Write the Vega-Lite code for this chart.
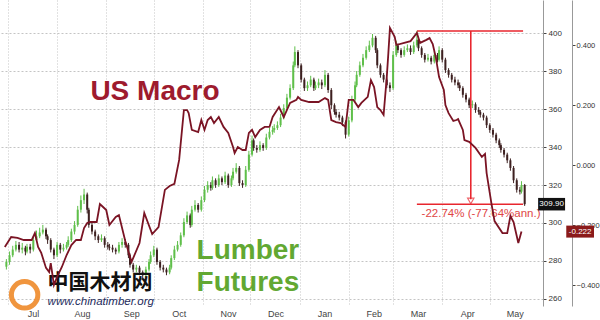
{
"$schema": "https://vega.github.io/schema/vega-lite/v6.json",
"width": 543, "height": 306,
"autosize": {"type": "none"},
"padding": {"left": 0, "top": 0, "right": 57, "bottom": 14},
"background": "white",
"config": {"view": {"stroke": null}, "font": "Liberation Sans", "axis": {"labelFont": "Liberation Sans"}},
"datasets": {
"lumber": [
{"d":"2012-06-30","o":277,"c":279.5,"h":281,"l":275.5},
{"d":"2012-07-02","o":279.5,"c":283,"h":285,"l":278},
{"d":"2012-07-04","o":283,"c":286,"h":288,"l":282},
{"d":"2012-07-06","o":286,"c":288.5,"h":290.5,"l":285},
{"d":"2012-07-08","o":288.5,"c":286,"h":290,"l":284.5},
{"d":"2012-07-10","o":286,"c":287,"h":289.5,"l":284},
{"d":"2012-07-12","o":287,"c":285,"h":288,"l":283},
{"d":"2012-07-13","o":285,"c":287.5,"h":289,"l":284},
{"d":"2012-07-15","o":287.5,"c":286,"h":289,"l":284},
{"d":"2012-07-17","o":286,"c":291,"h":293,"l":285},
{"d":"2012-07-19","o":291,"c":293,"h":296,"l":290},
{"d":"2012-07-21","o":293,"c":295,"h":297.5,"l":292},
{"d":"2012-07-23","o":295,"c":296.5,"h":299,"l":294},
{"d":"2012-07-25","o":296.5,"c":293,"h":297.5,"l":291.5},
{"d":"2012-07-26","o":293,"c":291,"h":294,"l":289},
{"d":"2012-07-28","o":291,"c":286,"h":292,"l":284.5},
{"d":"2012-07-30","o":286,"c":283,"h":287,"l":281},
{"d":"2012-08-01","o":283,"c":288.5,"h":290,"l":282},
{"d":"2012-08-03","o":288.5,"c":286,"h":289.5,"l":284},
{"d":"2012-08-05","o":286,"c":287,"h":289,"l":285},
{"d":"2012-08-07","o":287,"c":288.5,"h":290,"l":286},
{"d":"2012-08-08","o":288.5,"c":291,"h":293,"l":287.5},
{"d":"2012-08-10","o":291,"c":295.5,"h":297,"l":290},
{"d":"2012-08-12","o":295.5,"c":299,"h":301,"l":294},
{"d":"2012-08-14","o":299,"c":307,"h":309,"l":298},
{"d":"2012-08-16","o":307,"c":312,"h":314.5,"l":305.5},
{"d":"2012-08-18","o":312,"c":315,"h":318,"l":310},
{"d":"2012-08-20","o":315,"c":307,"h":316,"l":305},
{"d":"2012-08-21","o":307,"c":299,"h":308,"l":297.5},
{"d":"2012-08-23","o":299,"c":295.5,"h":300.5,"l":294},
{"d":"2012-08-25","o":295.5,"c":293,"h":296.5,"l":291},
{"d":"2012-08-27","o":293,"c":291,"h":294,"l":289.5},
{"d":"2012-08-29","o":291,"c":292,"h":294,"l":290},
{"d":"2012-08-31","o":292,"c":288.5,"h":293,"l":287},
{"d":"2012-09-02","o":288.5,"c":287.5,"h":290,"l":286},
{"d":"2012-09-03","o":287.5,"c":287,"h":289,"l":285.5},
{"d":"2012-09-05","o":287,"c":286,"h":288.5,"l":284.5},
{"d":"2012-09-07","o":286,"c":285,"h":287,"l":283.5},
{"d":"2012-09-09","o":285,"c":288.5,"h":290,"l":284},
{"d":"2012-09-11","o":288.5,"c":290,"h":292,"l":287},
{"d":"2012-09-13","o":290,"c":288.5,"h":291.5,"l":287},
{"d":"2012-09-15","o":288.5,"c":283,"h":289.5,"l":281.5},
{"d":"2012-09-16","o":283,"c":278,"h":284,"l":276.5},
{"d":"2012-09-18","o":278,"c":275.5,"h":279,"l":274},
{"d":"2012-09-20","o":275.5,"c":276.5,"h":278,"l":274},
{"d":"2012-09-22","o":276.5,"c":274,"h":277.5,"l":272.5},
{"d":"2012-09-24","o":274,"c":272.5,"h":275,"l":271},
{"d":"2012-09-26","o":272.5,"c":275.5,"h":277,"l":271.5},
{"d":"2012-09-28","o":275.5,"c":279.5,"h":281,"l":274.5},
{"d":"2012-09-29","o":279.5,"c":283,"h":285,"l":278.5},
{"d":"2012-10-01","o":283,"c":286,"h":288,"l":282},
{"d":"2012-10-03","o":286,"c":279.5,"h":287,"l":278},
{"d":"2012-10-05","o":279.5,"c":276.5,"h":280.5,"l":275},
{"d":"2012-10-07","o":276.5,"c":275.5,"h":278,"l":274},
{"d":"2012-10-09","o":275.5,"c":274,"h":276.5,"l":272.5},
{"d":"2012-10-11","o":274,"c":276.5,"h":278,"l":273},
{"d":"2012-10-12","o":276.5,"c":281.5,"h":283,"l":275.5},
{"d":"2012-10-14","o":281.5,"c":286,"h":288,"l":280.5},
{"d":"2012-10-16","o":286,"c":288.5,"h":290.5,"l":285},
{"d":"2012-10-18","o":288.5,"c":293.5,"h":295,"l":287.5},
{"d":"2012-10-20","o":293.5,"c":300.5,"h":302.5,"l":292.5},
{"d":"2012-10-22","o":300.5,"c":304,"h":306,"l":299.5},
{"d":"2012-10-24","o":304,"c":299,"h":305,"l":297.5},
{"d":"2012-10-25","o":299,"c":307,"h":309,"l":298},
{"d":"2012-10-27","o":307,"c":309.5,"h":312,"l":306},
{"d":"2012-10-29","o":309.5,"c":307,"h":310.5,"l":305.5},
{"d":"2012-10-31","o":307,"c":312,"h":314,"l":306},
{"d":"2012-11-02","o":312,"c":317.5,"h":319.5,"l":311},
{"d":"2012-11-04","o":317.5,"c":320,"h":322,"l":316},
{"d":"2012-11-06","o":320,"c":318.5,"h":321.5,"l":317},
{"d":"2012-11-07","o":318.5,"c":322.5,"h":324.5,"l":317.5},
{"d":"2012-11-09","o":322.5,"c":320,"h":323.5,"l":318.5},
{"d":"2012-11-11","o":320,"c":323.5,"h":325.5,"l":319},
{"d":"2012-11-13","o":323.5,"c":321.5,"h":324.5,"l":320},
{"d":"2012-11-15","o":321.5,"c":325,"h":327,"l":320.5},
{"d":"2012-11-17","o":325,"c":320,"h":326,"l":318.5},
{"d":"2012-11-19","o":320,"c":323.5,"h":325,"l":319},
{"d":"2012-11-20","o":323.5,"c":327,"h":329,"l":322.5},
{"d":"2012-11-22","o":327,"c":329,"h":331.5,"l":326},
{"d":"2012-11-24","o":329,"c":321,"h":330,"l":319.5},
{"d":"2012-11-26","o":321,"c":320,"h":322.5,"l":318.5},
{"d":"2012-11-28","o":320,"c":328,"h":330,"l":319},
{"d":"2012-11-30","o":328,"c":336,"h":338,"l":327},
{"d":"2012-12-02","o":336,"c":343.5,"h":346,"l":335},
{"d":"2012-12-03","o":343.5,"c":339.5,"h":344.5,"l":338},
{"d":"2012-12-05","o":339.5,"c":338.5,"h":341,"l":337},
{"d":"2012-12-07","o":338.5,"c":341,"h":343,"l":337.5},
{"d":"2012-12-09","o":341,"c":339.5,"h":342,"l":338},
{"d":"2012-12-11","o":339.5,"c":345,"h":347,"l":338.5},
{"d":"2012-12-13","o":345,"c":348,"h":350,"l":344},
{"d":"2012-12-15","o":348,"c":349,"h":351,"l":346.5},
{"d":"2012-12-16","o":349,"c":350,"h":352,"l":347.5},
{"d":"2012-12-18","o":350,"c":351.5,"h":353.5,"l":349},
{"d":"2012-12-20","o":351.5,"c":355.5,"h":357.5,"l":350.5},
{"d":"2012-12-22","o":355.5,"c":360.5,"h":362.5,"l":354.5},
{"d":"2012-12-24","o":360.5,"c":366,"h":368,"l":359.5},
{"d":"2012-12-26","o":366,"c":371,"h":373,"l":365},
{"d":"2012-12-28","o":371,"c":383,"h":385,"l":370},
{"d":"2012-12-29","o":383,"c":390,"h":393,"l":382},
{"d":"2012-12-31","o":390,"c":383,"h":391,"l":381.5},
{"d":"2013-01-02","o":383,"c":375.5,"h":384,"l":374},
{"d":"2013-01-04","o":375.5,"c":371,"h":376.5,"l":369.5},
{"d":"2013-01-06","o":371,"c":372.5,"h":374.5,"l":369.5},
{"d":"2013-01-08","o":372.5,"c":375.5,"h":377.5,"l":371.5},
{"d":"2013-01-10","o":375.5,"c":371,"h":376.5,"l":369.5},
{"d":"2013-01-11","o":371,"c":372.5,"h":374.5,"l":370},
{"d":"2013-01-13","o":372.5,"c":374,"h":376,"l":371},
{"d":"2013-01-15","o":374,"c":372.5,"h":375.5,"l":370.5},
{"d":"2013-01-17","o":372.5,"c":378,"h":380.5,"l":371.5},
{"d":"2013-01-19","o":378,"c":370,"h":379,"l":368.5},
{"d":"2013-01-21","o":370,"c":362,"h":371,"l":360},
{"d":"2013-01-23","o":362,"c":358.5,"h":363,"l":357},
{"d":"2013-01-24","o":358.5,"c":357,"h":360,"l":355.5},
{"d":"2013-01-26","o":357,"c":355.5,"h":358.5,"l":354},
{"d":"2013-01-28","o":355.5,"c":353,"h":356.5,"l":351},
{"d":"2013-01-30","o":353,"c":346.5,"h":354,"l":344.5},
{"d":"2013-02-01","o":346.5,"c":354,"h":356,"l":345.5},
{"d":"2013-02-03","o":354,"c":365,"h":367,"l":353},
{"d":"2013-02-05","o":365,"c":372.5,"h":374.5,"l":364},
{"d":"2013-02-06","o":372.5,"c":378,"h":380,"l":371.5},
{"d":"2013-02-08","o":378,"c":383,"h":385,"l":377},
{"d":"2013-02-10","o":383,"c":387,"h":389,"l":382},
{"d":"2013-02-12","o":387,"c":391,"h":393,"l":386},
{"d":"2013-02-14","o":391,"c":393.5,"h":396,"l":390},
{"d":"2013-02-16","o":393.5,"c":397.5,"h":399.5,"l":392.5},
{"d":"2013-02-18","o":397.5,"c":391,"h":398.5,"l":389.5},
{"d":"2013-02-19","o":391,"c":383,"h":392,"l":381.5},
{"d":"2013-02-21","o":383,"c":378,"h":384,"l":376.5},
{"d":"2013-02-23","o":378,"c":375.5,"h":379,"l":374},
{"d":"2013-02-25","o":375.5,"c":372.5,"h":376.5,"l":371},
{"d":"2013-02-27","o":372.5,"c":371,"h":374,"l":369},
{"d":"2013-03-01","o":371,"c":388.5,"h":390.5,"l":370},
{"d":"2013-03-03","o":388.5,"c":393.5,"h":396,"l":387.5},
{"d":"2013-03-04","o":393.5,"c":391,"h":394.5,"l":389.5},
{"d":"2013-03-06","o":391,"c":388.5,"h":392,"l":387},
{"d":"2013-03-08","o":388.5,"c":391,"h":393,"l":387.5},
{"d":"2013-03-10","o":391,"c":392,"h":394,"l":390},
{"d":"2013-03-12","o":392,"c":390,"h":393.5,"l":388.5},
{"d":"2013-03-14","o":390,"c":393.5,"h":395.5,"l":389},
{"d":"2013-03-16","o":393.5,"c":396.5,"h":401.1,"l":392.5},
{"d":"2013-03-17","o":396.5,"c":392,"h":397.5,"l":390.5},
{"d":"2013-03-19","o":392,"c":388.5,"h":393,"l":387},
{"d":"2013-03-21","o":388.5,"c":386,"h":389.5,"l":384.5},
{"d":"2013-03-23","o":386,"c":387,"h":389,"l":385},
{"d":"2013-03-25","o":387,"c":385,"h":388,"l":383.5},
{"d":"2013-03-27","o":385,"c":388.5,"h":390.5,"l":384},
{"d":"2013-03-29","o":388.5,"c":386,"h":389.5,"l":384.5},
{"d":"2013-03-30","o":386,"c":391,"h":393,"l":385},
{"d":"2013-04-01","o":391,"c":386,"h":392,"l":384.5},
{"d":"2013-04-03","o":386,"c":380.5,"h":387,"l":379},
{"d":"2013-04-05","o":380.5,"c":378,"h":381.5,"l":376.5},
{"d":"2013-04-07","o":378,"c":375.5,"h":379,"l":374},
{"d":"2013-04-09","o":375.5,"c":374,"h":377,"l":372.5},
{"d":"2013-04-11","o":374,"c":372.5,"h":375.5,"l":371},
{"d":"2013-04-12","o":372.5,"c":371,"h":374,"l":369.5},
{"d":"2013-04-14","o":371,"c":367.5,"h":372,"l":366},
{"d":"2013-04-16","o":367.5,"c":365,"h":368.5,"l":363.5},
{"d":"2013-04-18","o":365,"c":362,"h":366,"l":360.5},
{"d":"2013-04-20","o":362,"c":362.5,"h":364.5,"l":360.5},
{"d":"2013-04-22","o":362.5,"c":359.5,"h":363.5,"l":358},
{"d":"2013-04-24","o":359.5,"c":358.5,"h":361,"l":357},
{"d":"2013-04-25","o":358.5,"c":357,"h":359.5,"l":355.5},
{"d":"2013-04-27","o":357,"c":355.5,"h":358,"l":354},
{"d":"2013-04-29","o":355.5,"c":351.5,"h":356.5,"l":350},
{"d":"2013-05-01","o":351.5,"c":349,"h":352.5,"l":347.5},
{"d":"2013-05-03","o":349,"c":346.5,"h":350,"l":345},
{"d":"2013-05-05","o":346.5,"c":343.5,"h":347.5,"l":342},
{"d":"2013-05-07","o":343.5,"c":341,"h":344.5,"l":339.5},
{"d":"2013-05-08","o":341,"c":338.5,"h":342,"l":337},
{"d":"2013-05-10","o":338.5,"c":336,"h":339.5,"l":334.5},
{"d":"2013-05-12","o":336,"c":333,"h":337,"l":331.5},
{"d":"2013-05-14","o":333,"c":329,"h":334,"l":327.5},
{"d":"2013-05-16","o":329,"c":322.5,"h":330,"l":321},
{"d":"2013-05-18","o":322.5,"c":317.5,"h":323.5,"l":316},
{"d":"2013-05-20","o":317.5,"c":316.5,"h":319,"l":315},
{"d":"2013-05-21","o":316.5,"c":320,"h":322,"l":315.5},
{"d":"2013-05-23","o":320,"c":309.9,"h":320.5,"l":309}
],
"macro": [
{"d":"2012-06-29","m":-0.273},{"d":"2012-07-03","m":-0.240},{"d":"2012-07-07","m":-0.243},{"d":"2012-07-11","m":-0.250},
{"d":"2012-07-16","m":-0.250},{"d":"2012-07-18","m":-0.227},{"d":"2012-07-20","m":-0.273},{"d":"2012-07-22","m":-0.293},
{"d":"2012-07-25","m":-0.343},{"d":"2012-07-27","m":-0.357},{"d":"2012-07-28","m":-0.327},{"d":"2012-07-30","m":-0.400},
{"d":"2012-08-01","m":-0.373},{"d":"2012-08-04","m":-0.340},{"d":"2012-08-07","m":-0.300},{"d":"2012-08-10","m":-0.267},
{"d":"2012-08-13","m":-0.250},{"d":"2012-08-16","m":-0.250},{"d":"2012-08-18","m":-0.210},{"d":"2012-08-20","m":-0.193},
{"d":"2012-08-22","m":-0.190},{"d":"2012-08-26","m":-0.190},{"d":"2012-08-28","m":-0.130},{"d":"2012-08-30","m":-0.140},
{"d":"2012-09-01","m":-0.150},{"d":"2012-09-03","m":-0.200},{"d":"2012-09-07","m":-0.173},{"d":"2012-09-09","m":-0.167},
{"d":"2012-09-13","m":-0.253},{"d":"2012-09-17","m":-0.323},{"d":"2012-09-22","m":-0.260},{"d":"2012-09-25","m":-0.160},
{"d":"2012-09-30","m":-0.230},{"d":"2012-10-04","m":-0.207},{"d":"2012-10-08","m":-0.083},{"d":"2012-10-11","m":-0.070},
{"d":"2012-10-14","m":-0.063},{"d":"2012-10-17","m":0.017},{"d":"2012-10-20","m":0.183},{"d":"2012-10-22","m":0.183},
{"d":"2012-10-23","m":0.173},{"d":"2012-10-25","m":0.117},{"d":"2012-10-29","m":0.110},{"d":"2012-10-31","m":0.150},
{"d":"2012-11-02","m":0.117},{"d":"2012-11-04","m":0.150},{"d":"2012-11-06","m":0.160},{"d":"2012-11-08","m":0.140},
{"d":"2012-11-11","m":0.160},{"d":"2012-11-14","m":0.127},{"d":"2012-11-17","m":0.107},{"d":"2012-11-20","m":0.060},
{"d":"2012-11-21","m":0.040},{"d":"2012-11-23","m":0.060},{"d":"2012-11-26","m":0.050},{"d":"2012-11-28","m":0.050},
{"d":"2012-11-30","m":0.107},{"d":"2012-12-02","m":0.117},{"d":"2012-12-04","m":0.093},{"d":"2012-12-07","m":0.117},
{"d":"2012-12-10","m":0.127},{"d":"2012-12-13","m":0.127},{"d":"2012-12-15","m":0.160},{"d":"2012-12-19","m":0.193},
{"d":"2012-12-22","m":0.160},{"d":"2012-12-26","m":0.207},{"d":"2012-12-30","m":0.217},{"d":"2012-12-31","m":0.227},
{"d":"2013-01-02","m":0.217},{"d":"2013-01-07","m":0.210},{"d":"2013-01-13","m":0.210},{"d":"2013-01-17","m":0.223},
{"d":"2013-01-19","m":0.217},{"d":"2013-01-21","m":0.150},{"d":"2013-01-24","m":0.143},{"d":"2013-01-27","m":0.140},
{"d":"2013-01-30","m":0.127},{"d":"2013-02-01","m":0.217},{"d":"2013-02-04","m":0.217},{"d":"2013-02-07","m":0.193},
{"d":"2013-02-09","m":0.207},{"d":"2013-02-13","m":0.227},{"d":"2013-02-15","m":0.283},{"d":"2013-02-17","m":0.260},
{"d":"2013-02-19","m":0.193},{"d":"2013-02-21","m":0.183},{"d":"2013-02-23","m":0.167},{"d":"2013-02-25","m":0.293},
{"d":"2013-02-26","m":0.373},{"d":"2013-02-27","m":0.457},{"d":"2013-03-02","m":0.427},{"d":"2013-03-03","m":0.400},
{"d":"2013-03-08","m":0.407},{"d":"2013-03-12","m":0.413},{"d":"2013-03-16","m":0.440},{"d":"2013-03-18","m":0.407},
{"d":"2013-03-22","m":0.417},{"d":"2013-03-24","m":0.423},{"d":"2013-03-26","m":0.403},{"d":"2013-03-28","m":0.357},
{"d":"2013-03-30","m":0.293},{"d":"2013-04-02","m":0.250},{"d":"2013-04-03","m":0.200},{"d":"2013-04-05","m":0.173},
{"d":"2013-04-08","m":0.147},{"d":"2013-04-10","m":0.150},{"d":"2013-04-11","m":0.153},{"d":"2013-04-14","m":0.117},
{"d":"2013-04-15","m":0.083},{"d":"2013-04-18","m":0.077},{"d":"2013-04-22","m":0.057},{"d":"2013-04-26","m":0.027},
{"d":"2013-04-28","m":0.037},{"d":"2013-04-29","m":-0.027},{"d":"2013-05-02","m":-0.127},{"d":"2013-05-04","m":-0.187},
{"d":"2013-05-09","m":-0.227},{"d":"2013-05-12","m":-0.227},{"d":"2013-05-14","m":-0.170},{"d":"2013-05-16","m":-0.190},
{"d":"2013-05-19","m":-0.260},{"d":"2013-05-21","m":-0.222}
]
},
"layer": [
{
"layer": [
{
"data": {"name": "lumber"},
"mark": {"type": "rule", "strokeWidth": 1},
"encoding": {
"x": {"field": "d", "type": "temporal", "title": null,
 "scale": {"type": "utc", "domain": [{"year":2012,"month":6,"date":29,"hours":3,"utc":true},{"year":2013,"month":5,"date":31,"hours":10,"utc":true}]},
 "axis": {"title": null, "labelExpr": "utcFormat(datum.value, '%b')",
  "values": [{"year":2012,"month":7,"date":1,"utc":true},{"year":2012,"month":8,"date":1,"utc":true},{"year":2012,"month":9,"date":1,"utc":true},{"year":2012,"month":10,"date":1,"utc":true},{"year":2012,"month":11,"date":1,"utc":true},{"year":2012,"month":12,"date":1,"utc":true},{"year":2013,"month":1,"date":1,"utc":true},{"year":2013,"month":2,"date":1,"utc":true},{"year":2013,"month":3,"date":1,"utc":true},{"year":2013,"month":4,"date":1,"utc":true},{"year":2013,"month":5,"date":1,"utc":true}],
  "labelOffset": 25, "labelAlign": "center", "labelFontSize": 9, "labelColor": "#444", "labelPadding": 3,
  "domain": false, "ticks": false, "grid": true, "gridColor": "#c4c4c4", "gridDash": [1, 2]}},
"y": {"field": "l", "type": "quantitative", "title": null,
 "scale": {"domain": [256.3, 417.4], "nice": false, "zero": false},
 "axis": {"title": null, "orient": "right", "format": "d",
  "values": [260,270,280,290,300,310,320,330,340,350,360,370,380,390,400,410],
  "labelExpr": "datum.value % 20 === 0 ? datum.label : ''",
  "labelFontSize": 8, "labelColor": "#333", "labelPadding": 2,
  "tickSize": 3, "tickColor": "#444", "domainColor": "#999",
  "grid": true, "gridColor": "#c4c4c4", "gridDash": [2, 2],
  "gridOpacity": {"condition": {"test": "datum.value % 20 === 0", "value": 1}, "value": 0}}},
"y2": {"field": "h"},
"color": {"condition": {"test": "datum.c >= datum.o", "value": "#5fbf4a"}, "value": "#3d2020"}
}
},
{
"data": {"name": "lumber"},
"mark": {"type": "bar", "width": 2},
"encoding": {
"x": {"field": "d", "type": "temporal", "title": null},
"y": {"field": "o", "type": "quantitative", "title": null},
"y2": {"field": "c"},
"color": {"condition": {"test": "datum.c >= datum.o", "value": "#5fbf4a"}, "value": "#3d2020"}
}
},
{
"data": {"values": [{"x1": "2013-03-16", "x2": "2013-05-22", "v": 401.1}, {"x1": "2013-03-16", "x2": "2013-05-22", "v": 309.9}]},
"mark": {"type": "rule", "color": "#e8262e", "strokeWidth": 1.6},
"encoding": {
"x": {"field": "x1", "type": "temporal", "title": null},
"x2": {"field": "x2"},
"y": {"field": "v", "type": "quantitative", "title": null}
}
},
{
"data": {"values": [{"d": "2013-04-19", "v1": 401.1, "v2": 312.5}]},
"mark": {"type": "rule", "color": "#e8262e", "strokeWidth": 1.6},
"encoding": {
"x": {"field": "d", "type": "temporal", "title": null},
"y": {"field": "v1", "type": "quantitative", "title": null},
"y2": {"field": "v2"}
}
},
{
"data": {"values": [{"d": "2013-04-19", "v": 311.6}]},
"mark": {"type": "point", "shape": "triangle-down", "filled": false, "color": "#e8262e", "size": 40, "strokeWidth": 1.2},
"encoding": {
"x": {"field": "d", "type": "temporal", "title": null},
"y": {"field": "v", "type": "quantitative", "title": null}
}
},
{
"data": {"values": [{"d": "2013-04-25T12:00:00Z", "v": 304.8, "t": "-22.74% (-77.64%ann.)"}]},
"mark": {"type": "text", "color": "#e04545", "fontSize": 11.5, "align": "center", "baseline": "middle"},
"encoding": {
"x": {"field": "d", "type": "temporal", "title": null},
"y": {"field": "v", "type": "quantitative", "title": null},
"text": {"field": "t"}
}
},
{
"data": {"values": [{"d": "2012-08-22", "v": 364.8, "t": "US Macro"}]},
"mark": {"type": "text", "color": "#9e1b2e", "fontSize": 28, "fontWeight": "bold", "align": "left", "baseline": "alphabetic"},
"encoding": {
"x": {"field": "d", "type": "temporal", "title": null},
"y": {"field": "v", "type": "quantitative", "title": null},
"text": {"field": "t"}
}
},
{
"data": {"values": [{"d": "2012-10-28", "v": 281.1, "t": "Lumber"}, {"d": "2012-10-28", "v": 264.2, "t": "Futures"}]},
"mark": {"type": "text", "color": "#62a832", "fontSize": 28, "fontWeight": "bold", "align": "left", "baseline": "alphabetic"},
"encoding": {
"x": {"field": "d", "type": "temporal", "title": null},
"y": {"field": "v", "type": "quantitative", "title": null},
"text": {"field": "t"}
}
},
{
"data": {"values": [{"d": "2012-07-11T12:00:00Z", "v": 262.2}]},
"mark": {"type": "point", "shape": "circle", "filled": false, "color": "#ef8a2a", "size": 700, "strokeWidth": 5, "opacity": 0.9},
"encoding": {
"x": {"field": "d", "type": "temporal", "title": null},
"y": {"field": "v", "type": "quantitative", "title": null}
}
},
{
"data": {"values": [{"d": "2012-07-26", "v": 265.2, "t": "中国木材网"}]},
"mark": {"type": "text", "font": "Noto Sans CJK SC", "color": "#111111", "fontSize": 21, "fontWeight": "bold", "align": "left", "baseline": "alphabetic"},
"encoding": {
"x": {"field": "d", "type": "temporal", "title": null},
"y": {"field": "v", "type": "quantitative", "title": null},
"text": {"field": "t"}
}
},
{
"data": {"values": [{"d": "2012-07-26", "v": 256.6, "t": "www.chinatimber.org"}]},
"mark": {"type": "text", "color": "#1d2b5c", "fontSize": 11.5, "fontStyle": "italic", "align": "left", "baseline": "alphabetic"},
"encoding": {
"x": {"field": "d", "type": "temporal", "title": null},
"y": {"field": "v", "type": "quantitative", "title": null},
"text": {"field": "t"}
}
},
{
"data": {"values": [{"x1": "2013-05-31T12:00:00Z", "x2": "2013-06-17T12:00:00Z", "v1": 306.6, "v2": 313.2}]},
"mark": {"type": "rect", "color": "#111111"},
"encoding": {
"x": {"field": "x1", "type": "temporal", "title": null},
"x2": {"field": "x2"},
"y": {"field": "v1", "type": "quantitative", "title": null},
"y2": {"field": "v2"}
}
},
{
"data": {"values": [{"d": "2013-06-09T00:00:00Z", "v": 309.9, "t": "309.90"}]},
"mark": {"type": "text", "color": "white", "fontSize": 8, "align": "center", "baseline": "middle"},
"encoding": {
"x": {"field": "d", "type": "temporal", "title": null},
"y": {"field": "v", "type": "quantitative", "title": null},
"text": {"field": "t"}
}
}
]
},
{
"layer": [
{
"data": {"name": "macro"},
"mark": {"type": "line", "color": "#7a1424", "strokeWidth": 1.8},
"encoding": {
"x": {"field": "d", "type": "temporal", "title": null},
"y": {"field": "m", "type": "quantitative", "title": null,
 "scale": {"domain": [-0.47, 0.55], "nice": false, "zero": false},
 "axis": {"title": null, "orient": "right", "offset": 29,
  "values": [-0.4,-0.3,-0.2,-0.1,0,0.1,0.2,0.3,0.4,0.5],
  "labelExpr": "abs(round(datum.value*10)) % 2 === 0 ? format(datum.value, '.3f') : ''",
  "labelFontSize": 7.5, "labelColor": "#333", "labelPadding": 1,
  "tickSize": 3, "tickColor": "#444", "domainColor": "#999", "grid": false}}
}
},
{
"data": {"values": [{"x1": "2013-06-18T06:00:00Z", "x2": "2013-07-05T18:00:00Z", "v1": -0.242, "v2": -0.202}]},
"mark": {"type": "rect", "color": "#8b1a1a"},
"encoding": {
"x": {"field": "x1", "type": "temporal", "title": null},
"x2": {"field": "x2"},
"y": {"field": "v1", "type": "quantitative", "title": null},
"y2": {"field": "v2"}
}
},
{
"data": {"values": [{"d": "2013-06-27T00:00:00Z", "v": -0.222, "t": "-0.222"}]},
"mark": {"type": "text", "color": "white", "fontSize": 8, "align": "center", "baseline": "middle"},
"encoding": {
"x": {"field": "d", "type": "temporal", "title": null},
"y": {"field": "v", "type": "quantitative", "title": null},
"text": {"field": "t"}
}
}
]
}
],
"resolve": {"scale": {"y": "independent"}}
}
